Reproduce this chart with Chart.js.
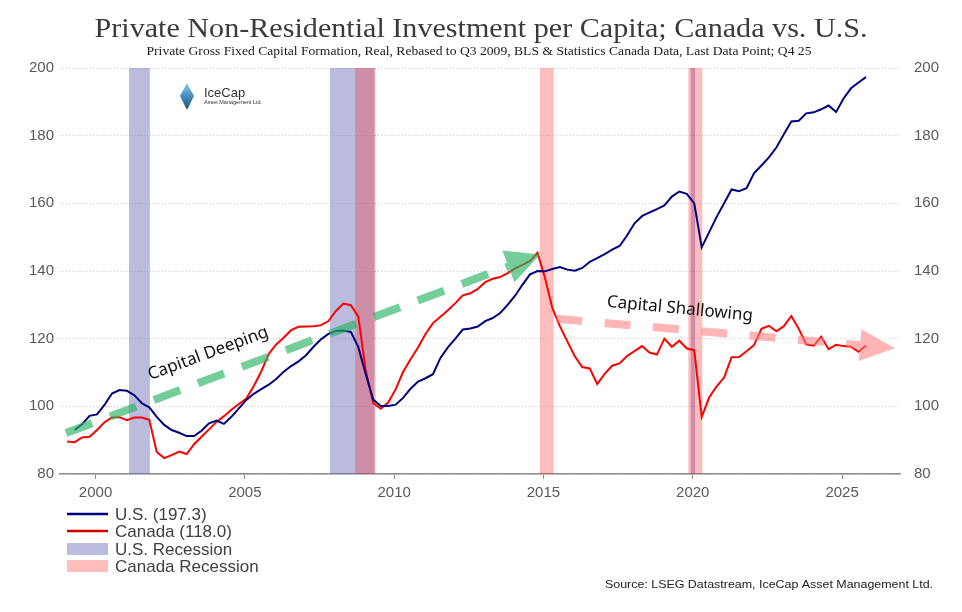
<!DOCTYPE html>
<html>
<head>
<meta charset="utf-8">
<script src="https://cdn.jsdelivr.net/npm/chart.js@4.4.1/dist/chart.umd.min.js"></script>
<style>
  html, body { margin: 0; padding: 0; background: #fff; }
</style>
</head>
<body>
<canvas id="chart" width="962" height="612"></canvas>
<script>
// Data
//==============================

// quarterly observations, 1999 Q1 .. 2025 Q4
var quarters = [];
for (var yr = 1999; yr <= 2025; yr++) {
  for (var q = 1; q <= 4; q++) quarters.push(yr + " Q" + q);
}

var usValues = [
  null, 93.0, 94.7, 97.2, 97.6, 100.4, 103.8, 104.8, 104.6, 103.3, 100.9, 99.7,
  96.9, 94.5, 93.0, 92.2, 91.2, 91.2, 92.8, 95.0, 95.8, 94.8, 96.9, 99.4,
  101.9, 103.7, 105.1, 106.4, 108.1, 110.2, 111.9, 113.3, 115.1, 117.6, 119.8, 121.4,
  122.3, 122.4, 122.0, 117.5, 109.5, 102.0, 100.1, 100.1, 100.5, 102.5, 105.2, 107.3,
  108.3, 109.5, 114.3, 117.4, 120.0, 122.7, 123.0, 123.6, 125.2, 126.1, 127.6, 130.0,
  132.7, 136.0, 139.0, 140.0, 139.9, 140.6, 141.2, 140.4, 140.1, 140.9, 142.7, 143.8,
  145.0, 146.3, 147.4, 150.5, 154.1, 156.2, 157.3, 158.3, 159.4, 162.0, 163.5, 162.8,
  160.0, 147.0, 151.5, 156.0, 160.0, 164.1, 163.6, 164.5, 168.9, 171.2, 173.6, 176.5,
  180.4, 184.2, 184.4, 186.6, 186.9, 187.8, 188.9, 187.0, 191.0, 194.0, 195.7, 197.3
];

var caValues = [
  89.6, 89.4, 90.8, 91.0, 93.0, 95.3, 96.7, 96.8, 95.9, 96.7, 96.7, 96.0,
  86.5, 84.7, 85.6, 86.6, 85.9, 88.8, 91.0, 93.2, 95.4, 97.1, 99.0, 100.7,
  102.3, 106.0, 110.3, 115.5, 118.3, 120.3, 122.5, 123.5, 123.6, 123.7, 124.0, 125.2,
  128.2, 130.4, 129.9, 126.5, 110.5, 101.0, 99.3, 101.1, 105.0, 110.2, 113.9, 117.4,
  121.4, 124.6, 126.5, 128.4, 130.5, 132.8, 133.4, 134.7, 136.7, 137.7, 138.2, 139.4,
  140.8, 141.8, 143.0, 145.4, 138.0, 129.0, 123.7, 119.2, 114.8, 111.6, 111.2, 106.6,
  109.6, 112.0, 112.7, 114.9, 116.3, 117.8, 115.9, 115.3, 120.0, 117.6, 119.4, 117.1,
  116.6, 96.9, 102.6, 105.9, 108.5, 114.5, 114.6, 116.3, 118.1, 122.9, 123.8, 122.2,
  123.7, 126.7, 122.9, 118.3, 117.9, 120.6, 116.9, 118.2, 117.8, 117.6, 116.1, 118.0
];

// recession periods as decimal years [start, end]
var usRecessions = [[2001.12, 2001.82], [2007.85, 2009.34], [2019.93, 2020.08]];
var caRecessions = [[2008.69, 2009.38], [2014.88, 2015.34], [2019.85, 2020.32]];

var yearTicks = [2000, 2005, 2010, 2015, 2020, 2025];
var valueTicks = [80, 100, 120, 140, 160, 180, 200];

var usLabel = "U.S. (197.3)";
var caLabel = "Canada (118.0)";

// annotation arrows, [year, value] from tail to tip
var deepingArrow = [[1999.01, 92.1], [2014.89, 144.9]];
var shallowArrow = [[2015.43, 125.9], [2026.77, 117.2]];
var deepingText = [2003.77, 115.6];
var shallowText = [2019.57, 128.8];

// Helpers
//==============================
function quarterToYear(label) {
  var parts = label.split(" Q");
  return Number(parts[0]) + (Number(parts[1]) - 1) / 4 + 0.05;
}

function toPoints(values) {
  return quarters.map(function (lbl, i) {
    return { x: quarterToYear(lbl), y: values[i] };
  });
}

var tickFont = { family: "Liberation Sans", size: 15 };
var tickColor = "#595959";

function drawArrow(ctx, x0, y0, x1, y1, color, width, dash, headLen, headHalf) {
  var dx = x1 - x0, dy = y1 - y0;
  var len = Math.sqrt(dx * dx + dy * dy);
  var ux = dx / len, uy = dy / len;
  var bx = x1 - ux * headLen, by = y1 - uy * headLen;
  ctx.save();
  ctx.strokeStyle = color;
  ctx.lineWidth = width;
  ctx.setLineDash(dash);
  ctx.beginPath();
  ctx.moveTo(x0, y0);
  ctx.lineTo(bx, by);
  ctx.stroke();
  ctx.setLineDash([]);
  ctx.fillStyle = color;
  ctx.beginPath();
  ctx.moveTo(x1, y1);
  ctx.lineTo(bx - uy * headHalf, by + ux * headHalf);
  ctx.lineTo(bx + uy * headHalf, by - ux * headHalf);
  ctx.closePath();
  ctx.fill();
  ctx.restore();
}

// text squeezed or stretched to a given width
function fitText(ctx, text, cx, cy, width, align) {
  var w = ctx.measureText(text).width;
  ctx.save();
  ctx.translate(cx, cy);
  ctx.scale(width / w, 1);
  ctx.textAlign = align;
  ctx.fillText(text, 0, 0);
  ctx.restore();
}

// Plugins
//==============================
var recessionBands = {
  id: "recessionBands",
  beforeDatasetsDraw: function (chart) {
    var ctx = chart.ctx, area = chart.chartArea, xs = chart.scales.x;
    ctx.save();
    ctx.fillStyle = "rgba(100, 100, 180, 0.44)";
    usRecessions.forEach(function (r) {
      var a = xs.getPixelForValue(r[0]), b = xs.getPixelForValue(r[1]);
      ctx.fillRect(a, area.top, b - a, area.bottom - area.top);
    });
    ctx.fillStyle = "rgba(255, 40, 40, 0.3)";
    caRecessions.forEach(function (r) {
      var a = xs.getPixelForValue(r[0]), b = xs.getPixelForValue(r[1]);
      ctx.fillRect(a, area.top, b - a, area.bottom - area.top);
    });
    ctx.restore();
  }
};

var annotations = {
  id: "annotations",
  afterDatasetsDraw: function (chart) {
    var ctx = chart.ctx, xs = chart.scales.x, ys = chart.scales.y;
    function px(p) { return [xs.getPixelForValue(p[0]), ys.getPixelForValue(p[1])]; }

    var g0 = px(deepingArrow[0]), g1 = px(deepingArrow[1]);
    drawArrow(ctx, g0[0], g0[1], g1[0], g1[1], "rgba(40, 180, 100, 0.65)", 8, [28, 19], 34, 17);

    var p0 = px(shallowArrow[0]), p1 = px(shallowArrow[1]);
    drawArrow(ctx, p0[0], p0[1], p1[0], p1[1], "rgba(255, 120, 120, 0.55)", 8, [26, 22.5], 35, 16);

    ctx.save();
    ctx.fillStyle = "#111";
    ctx.font = '17px "Noto Sans"';
    ctx.textAlign = "center";
    ctx.textBaseline = "middle";
    var t = px(deepingText);
    ctx.translate(t[0], t[1]);
    ctx.rotate(-20.2 * Math.PI / 180);
    ctx.fillText("Capital Deeping", 0, 0);
    ctx.restore();

    ctx.save();
    ctx.fillStyle = "#111";
    ctx.font = '17px "Noto Sans"';
    ctx.textAlign = "center";
    ctx.textBaseline = "middle";
    var s = px(shallowText);
    ctx.translate(s[0], s[1]);
    ctx.rotate(5.5 * Math.PI / 180);
    ctx.fillText("Capital Shallowing", 0, 0);
    ctx.restore();
  }
};

var decorations = {
  id: "decorations",
  afterDraw: function (chart) {
    var ctx = chart.ctx;
    ctx.save();

    // titles
    ctx.textBaseline = "middle";
    ctx.fillStyle = "#3b3b3b";
    ctx.font = '27px "Liberation Serif"';
    fitText(ctx, "Private Non-Residential Investment per Capita; Canada vs. U.S.", 481, 30, 773, "center");
    ctx.fillStyle = "#1a1a1a";
    ctx.font = '12.5px "Liberation Serif"';
    fitText(ctx, "Private Gross Fixed Capital Formation, Real, Rebased to Q3 2009, BLS & Statistics Canada Data, Last Data Point; Q4 25", 479, 52, 665, "center");

    // logo
    var grad = ctx.createLinearGradient(0, 83, 0, 110);
    grad.addColorStop(0, "#8cc8e8");
    grad.addColorStop(0.45, "#4a93c4");
    grad.addColorStop(1, "#1f4f78");
    ctx.fillStyle = grad;
    ctx.beginPath();
    ctx.moveTo(187, 83);
    ctx.lineTo(194, 96);
    ctx.lineTo(187, 110);
    ctx.lineTo(180, 96);
    ctx.closePath();
    ctx.fill();
    ctx.textAlign = "left";
    ctx.fillStyle = "#333";
    ctx.font = '13px "Liberation Sans"';
    ctx.fillText("IceCap", 204, 93);
    ctx.font = '5.5px "Liberation Sans"';
    ctx.fillText("Asset Management Ltd.", 204, 102);

    // legend
    var rows = [
      { y: 514, type: "line", color: "#00007f", text: usLabel },
      { y: 531, type: "line", color: "#d00000", text: caLabel },
      { y: 549, type: "box", color: "rgb(188, 188, 222)", text: "U.S. Recession" },
      { y: 566, type: "box", color: "rgb(255, 190, 190)", text: "Canada Recession" }
    ];
    ctx.font = '17px "Liberation Sans"';
    rows.forEach(function (r) {
      if (r.type === "line") {
        ctx.strokeStyle = r.color;
        ctx.lineWidth = 2.5;
        ctx.beginPath();
        ctx.moveTo(67, r.y);
        ctx.lineTo(108, r.y);
        ctx.stroke();
      } else {
        ctx.fillStyle = r.color;
        ctx.fillRect(67, r.y - 6, 41, 12);
      }
      ctx.fillStyle = "#404040";
      ctx.fillText(r.text, 115, r.y + 1);
    });

    // source
    ctx.fillStyle = "#222";
    ctx.font = '11px "Liberation Sans"';
    fitText(ctx, "Source: LSEG Datastream, IceCap Asset Management Ltd.", 933, 585, 328, "right");
    ctx.restore();
  }
};

// Chart
//==============================
var ctx = document.getElementById("chart");
var investmentChart = new Chart(ctx, {
  type: "line",
  data: {
    datasets: [{
      label: usLabel,
      data: toPoints(usValues),
      borderColor: "#00007f",
      borderWidth: 2,
      pointRadius: 0,
      tension: 0
    }, {
      label: caLabel,
      data: toPoints(caValues),
      borderColor: "#ff0000",
      borderWidth: 2,
      pointRadius: 0,
      tension: 0
    }]
  },
  options: {
    responsive: false,
    animation: false,
    layout: { padding: { top: 68, left: 0, right: 0, bottom: 0 } },
    plugins: {
      legend: { display: false },
      tooltip: { enabled: false }
    },
    scales: {
      x: {
        type: "linear",
        min: 1998.81,
        max: 2026.94,
        afterBuildTicks: function (scale) {
          scale.ticks = yearTicks.map(function (v) { return { value: v }; });
        },
        afterFit: function (scale) { scale.height = 138; },
        ticks: {
          autoSkip: false,
          maxRotation: 0,
          padding: 5,
          color: tickColor,
          font: tickFont,
          callback: function (v) { return String(v); }
        },
        grid: { drawOnChartArea: false, drawTicks: true, tickLength: 5, color: "#8c8c8c" },
        border: { display: true, color: "#8c8c8c", width: 1.5 }
      },
      y: {
        position: "left",
        min: 80,
        max: 200,
        afterBuildTicks: function (scale) {
          scale.ticks = valueTicks.map(function (v) { return { value: v }; });
        },
        afterFit: function (scale) { scale.width = 60; },
        ticks: { padding: 6, color: tickColor, font: tickFont },
        grid: { color: "#cfcfcf", lineWidth: 1, drawTicks: false },
        border: { display: false, dash: [1, 2] }
      },
      y2: {
        position: "right",
        min: 80,
        max: 200,
        afterBuildTicks: function (scale) {
          scale.ticks = valueTicks.map(function (v) { return { value: v }; });
        },
        afterFit: function (scale) { scale.width = 62; },
        ticks: { padding: 6, color: tickColor, font: tickFont },
        grid: { display: false },
        border: { display: false }
      }
    }
  },
  plugins: [recessionBands, annotations, decorations]
});
</script>
</body>
</html>
